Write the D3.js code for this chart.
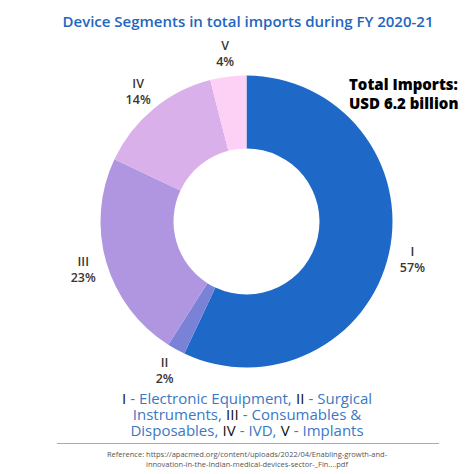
<!DOCTYPE html>
<html>
<head>
<meta charset="utf-8">
<script src="https://cdn.jsdelivr.net/npm/d3@7"></script>
<style>
  html, body { margin: 0; padding: 0; background: #fff; }
  svg { display: block; font-family: "Open Sans", sans-serif; }
</style>
</head>
<body>
<div id="chart"></div>
<script>
const segments = ['I', 'II', 'III', 'IV', 'V'];
const shares = [57, 2, 23, 14, 4];
const segColors = ['#1e69c8', '#7a82d8', '#b096e1', '#dab0ea', '#fdd1f6'];
const legendLines = [
    [['I', 'k'], ['- Electronic Equipment,', 'b'], ['II', 'k'], ['- Surgical', 'b']],
    [['Instruments,', 'b'], ['III', 'k'], ['- Consumables &', 'b']],
    [['Disposables,', 'b'], ['IV', 'k'], ['- IVD,', 'b'], ['V', 'k'], ['- Implants', 'b']]
];

const W = 474, H = 474;
const cx = 246.5, cy = 221.5, outerR = 146, innerR = 73, labelR = 170;

const svg = d3.select('#chart').append('svg')
    .attr('width', W)
    .attr('height', H);

svg.append('text')
    .attr('x', 248)
    .attr('y', 27)
    .attr('text-anchor', 'middle')
    .attr('fill', '#2266c0')
    .style('font-size', '15px')
    .style('font-weight', 600)
    .text('Device Segments in total imports during FY 2020-21');

const data = segments.map((s, i) => ({ seg: s, value: shares[i], color: segColors[i] }));
const pie = d3.pie().sort(null).value(d => d.value);
const arcs = pie(data);
const arc = d3.arc().innerRadius(innerR).outerRadius(outerR);

const g = svg.append('g').attr('transform', `translate(${cx},${cy})`);
g.selectAll('path')
    .data(arcs)
    .join('path')
    .attr('d', arc)
    .attr('fill', d => d.data.color);

const labelArc = d3.arc().innerRadius(labelR).outerRadius(labelR);
const lbl = g.selectAll('g.lbl')
    .data(arcs)
    .join('g')
    .attr('class', 'lbl')
    .attr('transform', d => `translate(${labelArc.centroid(d)})`);
lbl.append('text')
    .attr('y', -3)
    .attr('text-anchor', 'middle')
    .attr('fill', '#3b3431')
    .style('font-size', '12.5px')
    .style('font-weight', 600)
    .text(d => d.data.seg);
lbl.append('text')
    .attr('y', 13)
    .attr('text-anchor', 'middle')
    .attr('fill', '#3b3431')
    .style('font-size', '12.5px')
    .style('font-weight', 600)
    .text(d => d.data.value + '%');

// total imports callout
['Total Imports:', 'USD 6.2 billion'].forEach((s, i) => {
    svg.append('text')
        .attr('x', 349)
        .attr('y', 90 + i * 19)
        .attr('fill', '#000')
        .style('font-size', '15px')
        .style('font-weight', 800)
        .text(s);
});

// legend: pieces laid out one after another with a space between, each line centred
const spaceW = 4.2;
legendLines.forEach((line, i) => {
    const row = svg.append('g');
    let x = 0;
    line.forEach(([txt, c], j) => {
        if (j > 0) x += spaceW;
        const t = row.append('text')
            .attr('x', x)
            .attr('y', 404 + i * 16)
            .attr('fill', c === 'k' ? '#111' : '#3a78c4')
            .style('font-size', '15px')
            .text(txt);
        x += t.node().getComputedTextLength();
    });
    row.attr('transform', `translate(${247 - x / 2},0)`);
});

svg.append('line')
    .attr('x1', 57)
    .attr('x2', 439)
    .attr('y1', 443.5)
    .attr('y2', 443.5)
    .attr('stroke', '#8fb1d2')
    .attr('stroke-width', 1.2);

const refLines = [
    'Reference: https://apacmed.org/content/uploads/2022/04/Enabling-growth-and-',
    'innovation-in-the-Indian-medical-devices-sector-_Fin....pdf'
];
refLines.forEach((r, i) => {
    svg.append('text')
        .attr('x', 247)
        .attr('y', 457 + i * 9.5)
        .attr('text-anchor', 'middle')
        .attr('fill', '#555')
        .style('font-size', '7.5px')
        .text(r);
});
</script>
</body>
</html>
